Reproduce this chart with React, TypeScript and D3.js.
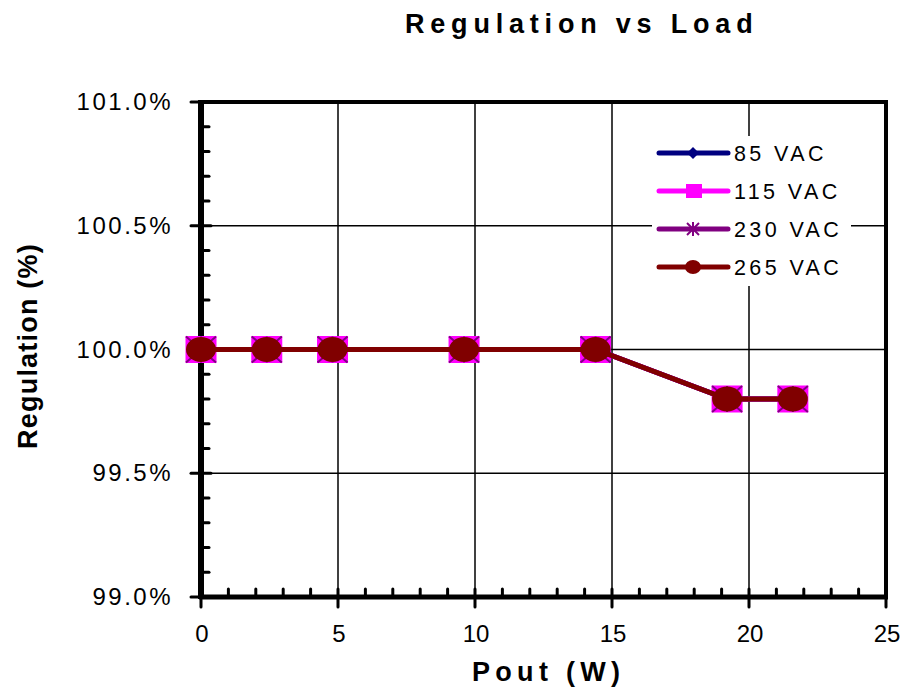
import React from "react";
import * as d3 from "d3";

const seriesNames = ["85 VAC", "115 VAC", "230 VAC", "265 VAC"];
const seriesColors = ["#000080", "#FF00FF", "#800080", "#800000"];
const pout = [0, 2.4, 4.8, 9.6, 14.4, 19.2, 21.6];
const reg85 = [100.0, 100.0, 100.0, 100.0, 100.0, 99.8, 99.8];
const reg115 = [100.0, 100.0, 100.0, 100.0, 100.0, 99.8, 99.8];
const reg230 = [100.0, 100.0, 100.0, 100.0, 100.0, 99.8, 99.8];
const reg265 = [100.0, 100.0, 100.0, 100.0, 100.0, 99.8, 99.8];
const xTicks = [0, 5, 10, 15, 20, 25];
const yTicks = [99.0, 99.5, 100.0, 100.5, 101.0];

const W = 905, H = 694;
const L = 201, R = 886, T = 102, B = 597;
const FONT = "'Liberation Sans', Arial, sans-serif";

export default function App() {
  const x = d3.scaleLinear().domain([0, 25]).range([L, R]);
  const y = d3.scaleLinear().domain([99, 101]).range([B, T]);
  const allSeries = [reg85, reg115, reg230, reg265];
  const line = d3.line<number>().x((_, i) => x(pout[i])).y((d) => y(d));
  const xMinor = d3.range(0, 25.01, 1).filter((v) => v % 5 !== 0);
  const yMinor = d3.range(99, 101.001, 0.1).map((v) => +v.toFixed(1)).filter((v) => Math.round(v * 10) % 5 !== 0);

  const marker = (si: number, cx: number, cy: number, key: string, scale = 1) => {
    const c = seriesColors[si];
    if (si === 0) {
      const s = 8 * scale;
      return <path key={key} d={`M${cx},${cy - s}L${cx + s},${cy}L${cx},${cy + s}L${cx - s},${cy}Z`} fill={c} />;
    }
    if (si === 1) {
      const w = 15.5 * scale, h = 13.5 * scale;
      return <rect key={key} x={cx - w} y={cy - h} width={2 * w} height={2 * h} fill={c} />;
    }
    if (si === 2) {
      const w = 15 * scale, h = 13 * scale;
      return (
        <g key={key} stroke={c} strokeWidth={2}>
          <line x1={cx - w} y1={cy - h} x2={cx + w} y2={cy + h} />
          <line x1={cx - w} y1={cy + h} x2={cx + w} y2={cy - h} />
          <line x1={cx} y1={cy - h} x2={cx} y2={cy + h} />
        </g>
      );
    }
    return <ellipse key={key} cx={cx} cy={cy} rx={15 * scale} ry={12.5 * scale} fill={c} />;
  };

  const legX = 659, legY0 = 153, legDY = 38;

  return (
    <svg width={W} height={H} style={{ display: "block", position: "absolute", left: 0, top: 0 }} fontFamily={FONT}>
      <rect width={W} height={H} fill="#fff" />
      <text x={405} y={33} textAnchor="start" fontSize={27} fontWeight="bold" letterSpacing={5.8}>Regulation vs Load</text>
      {/* gridlines */}
      {xTicks.slice(1, -1).map((t) => (
        <line key={"gx" + t} x1={x(t)} x2={x(t)} y1={T} y2={B} stroke="#000" strokeWidth={1.5} />
      ))}
      {yTicks.slice(1, -1).map((t) => (
        <line key={"gy" + t} x1={L} x2={R} y1={y(t)} y2={y(t)} stroke="#000" strokeWidth={1.5} />
      ))}
      {/* legend background */}
      <rect x={652} y={136} width={199} height={150} fill="#fff" />
      {/* border */}
      <rect x={L} y={T} width={R - L} height={B - T} fill="none" stroke="#000" strokeWidth={4} />
      <line x1={L} x2={L} y1={T - 2} y2={B + 2} stroke="#000" strokeWidth={6} />
      <line x1={L - 2} x2={R + 2} y1={B} y2={B} stroke="#000" strokeWidth={5} />
      {/* minor ticks */}
      {yMinor.map((t) => (
        <line key={"my" + t} x1={L} x2={L + 8} y1={y(t)} y2={y(t)} stroke="#000" strokeWidth={3} strokeLinecap="round" />
      ))}
      {xMinor.map((t) => (
        <line key={"mx" + t} x1={x(t)} x2={x(t)} y1={B} y2={B - 8} stroke="#000" strokeWidth={3} strokeLinecap="round" />
      ))}
      {/* major ticks */}
      {yTicks.map((t) => (
        <line key={"My" + t} x1={L - 10} x2={L + 10} y1={y(t)} y2={y(t)} stroke="#000" strokeWidth={3} strokeLinecap="round" />
      ))}
      {xTicks.map((t) => (
        <line key={"Mx" + t} x1={x(t)} x2={x(t)} y1={B - 8} y2={B + 10} stroke="#000" strokeWidth={3} strokeLinecap="round" />
      ))}
      {/* tick labels */}
      {yTicks.map((t) => (
        <text key={"ly" + t} x={L - 28} y={y(t) + 8} textAnchor="end" fontSize={24} letterSpacing={2.5}>{t.toFixed(1) + "%"}</text>
      ))}
      {xTicks.map((t) => (
        <text key={"lx" + t} x={x(t) + 1} y={B + 45} textAnchor="middle" fontSize={24}>{t}</text>
      ))}
      <text x={472} y={681} textAnchor="start" fontSize={27} fontWeight="bold" letterSpacing={5.3}>Pout (W)</text>
      <text transform={`translate(37,${346}) rotate(-90)`} textAnchor="middle" fontSize={27} fontWeight="bold" letterSpacing={1.2}>Regulation (%)</text>
      {/* series */}
      {allSeries.map((s, si) => (
        <g key={"s" + si}>
          <path d={line(s) || ""} fill="none" stroke={seriesColors[si]} strokeWidth={5} />
          {s.map((v, i) => marker(si, x(pout[i]), y(v), `m${si}-${i}`))}
        </g>
      ))}
      {/* legend */}
      {seriesNames.map((n, i) => {
        const ly = legY0 + i * legDY;
        return (
          <g key={"lg" + i}>
            <line x1={legX} x2={legX + 69} y1={ly} y2={ly} stroke={seriesColors[i]} strokeWidth={5} strokeLinecap="round" />
            {i === 0 && marker(0, legX + 34, ly, "lm0", 0.75)}
            {i === 1 && <rect x={legX + 27} y={ly - 7} width={16} height={14} fill={seriesColors[1]} />}
            {i === 2 && (
              <g stroke={seriesColors[2]} strokeWidth={2}>
                <line x1={legX + 28} y1={ly - 6} x2={legX + 40} y2={ly + 6} />
                <line x1={legX + 28} y1={ly + 6} x2={legX + 40} y2={ly - 6} />
                <line x1={legX + 34} y1={ly - 7} x2={legX + 34} y2={ly + 7} />
              </g>
            )}
            {i === 3 && <ellipse cx={legX + 34} cy={ly} rx={8} ry={7} fill={seriesColors[3]} />}
            <text x={legX + 75} y={ly + 8} fontSize={21.5} letterSpacing={3.4}>{n}</text>
          </g>
        );
      })}
    </svg>
  );
}
